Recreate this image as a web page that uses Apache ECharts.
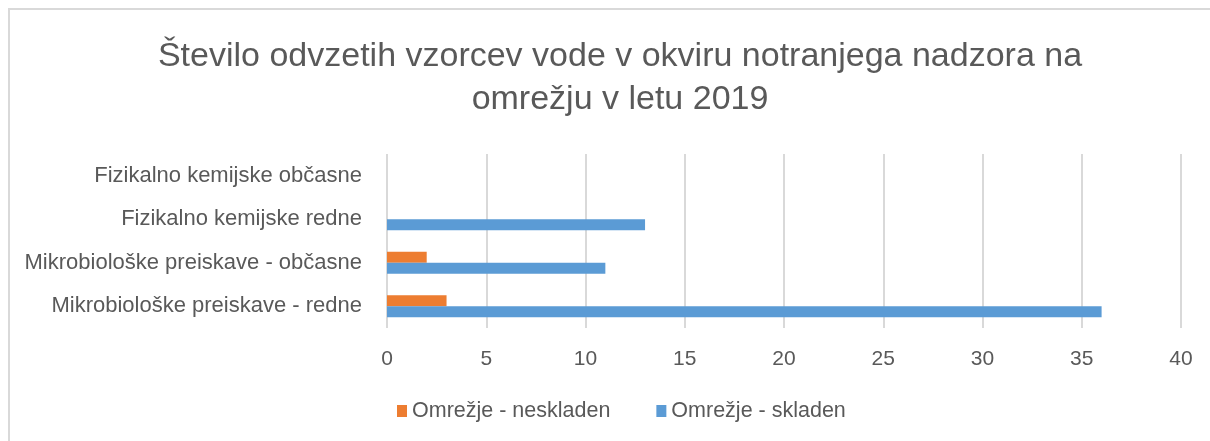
<!DOCTYPE html>
<html>
<head>
<meta charset="utf-8">
<script src="https://cdn.jsdelivr.net/npm/echarts@6/dist/echarts.min.js"></script>
<style>
html, body { margin: 0; padding: 0; background: #fff; }
#chart { width: 1210px; height: 441px; }
</style>
</head>
<body>
<div id="chart"></div>
<script>
// categories bottom -> top (as on the y axis)
var categories = [
    "Mikrobiološke preiskave - redne",
    "Mikrobiološke preiskave - občasne",
    "Fizikalno kemijske redne",
    "Fizikalno kemijske občasne"
];
var neskladen = [3, 2, null, null];
var skladen = [36, 11, 13, null];
var xTicks = [0, 5, 10, 15, 20, 25, 30, 35, 40];

var font = "Liberation Sans, Arial, sans-serif";
var chart = echarts.init(document.getElementById("chart"));
chart.setOption({
    animation: false,
    graphic: [{
        type: "rect",
        shape: { x: 9, y: 9, width: 1220, height: 450 },
        style: { fill: "none", stroke: "#d9d9d9", lineWidth: 2 }
    }],
    title: {
        text: "Število odvzetih vzorcev vode v okviru notranjega nadzora na\nomrežju v letu 2019",
        left: 615,
        textAlign: "center",
        top: 30,
        textStyle: {
            fontFamily: font,
            fontWeight: "normal",
            fontSize: 34,
            lineHeight: 43,
            color: "#595959"
        }
    },
    legend: {
        bottom: 14,
        left: 392,
        itemWidth: 10,
        itemHeight: 12,
        itemGap: 46,
        icon: "rect",
        textStyle: { fontFamily: font, fontSize: 21.5, color: "#595959" },
        data: ["Omrežje - neskladen", "Omrežje - skladen"]
    },
    grid: {
        left: 387,
        right: 29,
        top: 154,
        bottom: 113
    },
    xAxis: {
        type: "value",
        min: 0,
        max: 40,
        interval: 5,
        axisLine: { show: false },
        axisTick: { show: false },
        splitLine: { lineStyle: { color: "#d9d9d9", width: 2 } },
        axisLabel: {
            fontFamily: font,
            fontSize: 21,
            color: "#595959",
            margin: 21,
            formatter: function (v) { return xTicks.indexOf(v) >= 0 ? String(v) : ""; }
        }
    },
    yAxis: {
        type: "category",
        data: categories,
        axisLine: { show: false },
        axisTick: { show: false },
        axisLabel: {
            fontFamily: font,
            fontSize: 22,
            color: "#595959",
            margin: 25
        }
    },
    series: [
        {
            name: "Omrežje - neskladen",
            type: "bar",
            data: neskladen,
            barWidth: 11,
            barGap: "0%",
            itemStyle: { color: "#ED7D31" }
        },
        {
            name: "Omrežje - skladen",
            type: "bar",
            data: skladen,
            barWidth: 11,
            barGap: "0%",
            itemStyle: { color: "#5B9BD5" }
        }
    ]
});
</script>
</body>
</html>
